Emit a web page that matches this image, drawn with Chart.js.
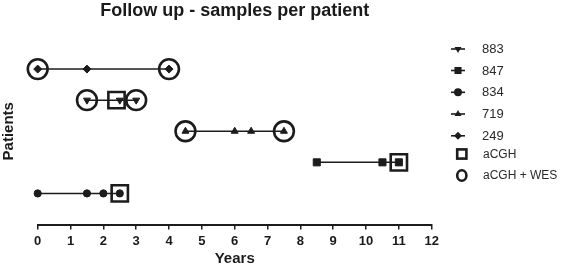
<!DOCTYPE html>
<html>
<head>
<meta charset="utf-8">
<script src="https://cdn.jsdelivr.net/npm/chart.js@4/dist/chart.umd.min.js"></script>
<style>
  html, body { margin: 0; padding: 0; background: #fff; }
  #wrap { width: 565px; height: 268px; position: relative; }
</style>
</head>
<body>
<div id="wrap"><canvas id="c" width="565" height="268"></canvas></div>
<script>
// ---- data ----
const patients = ['883', '847', '834', '719', '249'];
const patientRow = [4, 2, 1, 3, 5];           // vertical position of each patient
const years883 = [1.5, 2.5, 3];
const years847 = [8.5, 10.5, 11];
const years834 = [0, 1.5, 2, 2.5];
const years719 = [4.5, 6, 6.5, 7.5];
const years249 = [0, 1.5, 4];
const acghPatients = ['883', '847', '834'];
const acghYears = [2.4, 11, 2.5];
const wesPatients = ['249', '249', '883', '883', '719', '719'];
const wesYears = [0, 4, 1.5, 3, 4.5, 7.5];
const xTicks = [0, 1, 2, 3, 4, 5, 6, 7, 8, 9, 10, 11, 12];
const legendLabels = ['883', '847', '834', '719', '249', 'aCGH', 'aCGH + WES'];

const INK = '#1c1c1c';
const FONT = "'Liberation Sans', Arial, Helvetica, sans-serif";
const rowOf = p => patientRow[patients.indexOf(p)];
const yearsBy = { '883': years883, '847': years847, '834': years834, '719': years719, '249': years249 };
const markerStyle = {
  '883': { pointStyle: 'triangle', rotation: 180, radius: 4 },
  '847': { pointStyle: 'rect', rotation: 0, radius: 5 },
  '834': { pointStyle: 'circle', rotation: 0, radius: 3.6 },
  '719': { pointStyle: 'triangle', rotation: 0, radius: 4 },
  '249': { pointStyle: 'rectRot', rotation: 0, radius: 4 }
};

const datasets = patients.map(p => ({
  label: p,
  data: yearsBy[p].map(x => ({ x: x, y: rowOf(p) })),
  showLine: true,
  borderColor: INK,
  backgroundColor: INK,
  borderWidth: 1.5,
  pointStyle: markerStyle[p].pointStyle,
  rotation: markerStyle[p].rotation,
  pointRadius: markerStyle[p].radius,
  pointBorderWidth: 1,
  pointBackgroundColor: INK,
  pointBorderColor: INK,
  clip: false
}));
datasets.push({
  label: 'aCGH',
  data: acghPatients.map((p, i) => ({ x: acghYears[i], y: rowOf(p) })),
  showLine: false,
  pointStyle: 'rect',
  pointRadius: 11.5,
  pointBorderWidth: 2.6,
  pointBorderColor: INK,
  pointBackgroundColor: 'rgba(0,0,0,0)',
  clip: false
});
datasets.push({
  label: 'aCGH + WES',
  data: wesPatients.map((p, i) => ({ x: wesYears[i], y: rowOf(p) })),
  showLine: false,
  pointStyle: 'circle',
  pointRadius: 9.9,
  pointBorderWidth: 2.6,
  pointBorderColor: INK,
  pointBackgroundColor: 'rgba(0,0,0,0)',
  clip: false
});

function marker(ctx, style, rot, r, x, y) {
  ctx.save();
  ctx.translate(x, y);
  ctx.rotate(rot * Math.PI / 180);
  ctx.beginPath();
  if (style === 'triangle') {
    ctx.moveTo(0, -r);
    ctx.lineTo(r * Math.sin(Math.PI * 2 / 3), r * 0.5);
    ctx.lineTo(-r * Math.sin(Math.PI * 2 / 3), r * 0.5);
    ctx.closePath();
  } else if (style === 'rect') {
    const s = r * Math.SQRT1_2;
    ctx.rect(-s, -s, 2 * s, 2 * s);
  } else if (style === 'rectRot') {
    ctx.moveTo(0, -r); ctx.lineTo(r, 0); ctx.lineTo(0, r); ctx.lineTo(-r, 0); ctx.closePath();
  } else {
    ctx.arc(0, 0, r, 0, Math.PI * 2);
  }
  ctx.fillStyle = INK;
  ctx.fill();
  ctx.restore();
}

const legendPlugin = {
  id: 'sideLegend',
  afterDraw(chart) {
    const ctx = chart.ctx;
    ctx.save();
    const rows = [49, 70.5, 92.3, 114, 135.8, 154, 175.5];
    ctx.fillStyle = '#2a2a2a';
    ctx.textBaseline = 'middle';
    ctx.textAlign = 'left';
    legendLabels.forEach((lab, i) => {
      const y = rows[i];
      if (i < patients.length) {
        ctx.strokeStyle = INK;
        ctx.lineWidth = 1.6;
        ctx.beginPath(); ctx.moveTo(451, y); ctx.lineTo(465, y); ctx.stroke();
        const ms = markerStyle[lab];
        marker(ctx, ms.pointStyle, ms.rotation, ms.pointStyle === 'rect' ? 5 : 4, 458, y);
        ctx.font = '13px ' + FONT;
        ctx.fillText(lab, 482, y + 0.5);
      } else if (lab === 'aCGH') {
        ctx.strokeStyle = INK; ctx.lineWidth = 2.6;
        ctx.strokeRect(461.8 - 4.6, y - 4.6, 9.2, 9.2);
        ctx.font = '12px ' + FONT;
        ctx.fillText(lab, 483, y + 0.5);
      } else {
        ctx.strokeStyle = INK; ctx.lineWidth = 2.6;
        ctx.beginPath(); ctx.ellipse(461.8, y, 4.6, 5.3, 0, 0, Math.PI * 2); ctx.stroke();
        ctx.font = '12px ' + FONT;
        ctx.fillText(lab, 483, y + 0.5);
      }
    });
    ctx.restore();
  }
};

new Chart(document.getElementById('c'), {
  type: 'scatter',
  data: { datasets: datasets },
  plugins: [legendPlugin],
  options: {
    responsive: false,
    animation: false,
    devicePixelRatio: 1,
    layout: { padding: { left: 0, right: 133.3, top: 0, bottom: 0 } },
    plugins: {
      legend: { display: false },
      tooltip: { enabled: false },
      title: {
        display: true,
        text: 'Follow up - samples per patient',
        fullSize: false,
        color: '#1a1a1a',
        font: { family: FONT, size: 18, weight: 'bold', lineHeight: 1.2 },
        padding: { top: 0, bottom: 16.4 }
      }
    },
    scales: {
      x: {
        type: 'linear',
        min: 0, max: 12,
        afterBuildTicks(s) { s.ticks = xTicks.map(v => ({ value: v })); },
        afterFit(s) { s.height = 43.5; s.paddingRight = 0; s.paddingLeft = 0; },
        ticks: {
          color: '#1a1a1a',
          padding: 4,
          maxRotation: 0,
          autoSkip: false,
          font: { family: FONT, size: 13, weight: 'bold' }
        },
        grid: { drawOnChartArea: false, drawTicks: true, tickLength: 5, color: INK, lineWidth: 1.5 },
        border: { display: true, color: INK, width: 2 },
        title: {
          display: true, text: 'Years', color: '#1a1a1a',
          font: { family: FONT, size: 15, weight: 'bold', lineHeight: 1.2 },
          padding: { top: 0, bottom: 0 }
        }
      },
      y: {
        type: 'linear',
        min: 0, max: 6,
        afterFit(s) { s.width = 37.7; },
        ticks: { display: false },
        grid: { display: false },
        border: { display: false },
        title: {
          display: true, text: 'Patients', color: '#1a1a1a',
          font: { family: FONT, size: 15, weight: 'bold', lineHeight: 1.2 },
          padding: { top: 0, bottom: 0 }
        }
      }
    }
  }
});
</script>
</body>
</html>
